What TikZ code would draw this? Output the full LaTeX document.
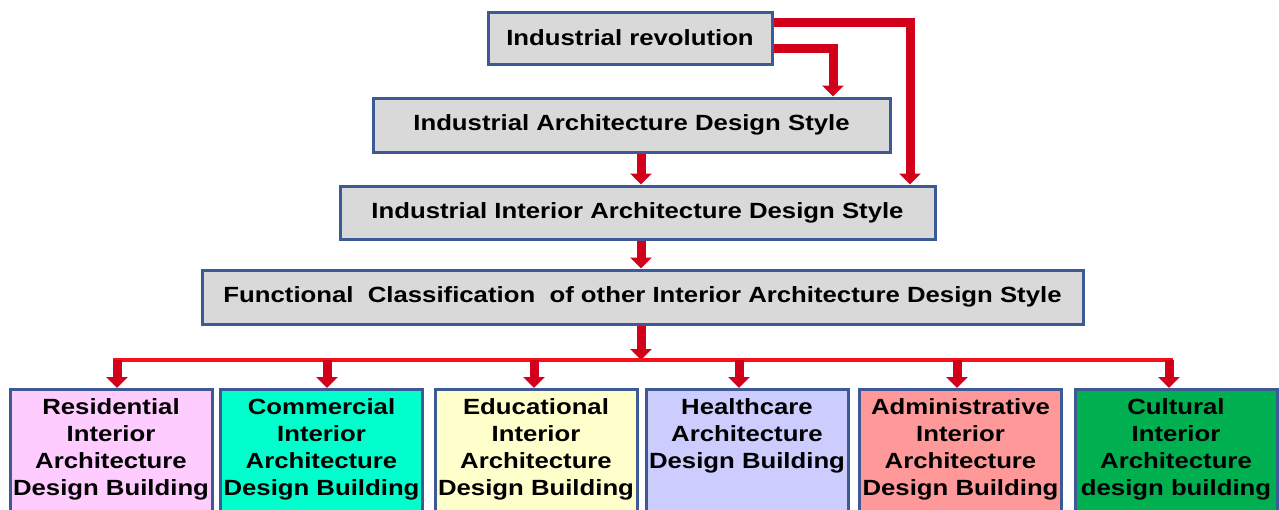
\documentclass[tikz,border=0pt]{standalone}
\usepackage{fontspec}
\newfontfamily\labfont{Liberation Sans}[FakeStretch=1.17]
\usetikzlibrary{arrows.meta,calc}
\definecolor{boxblue}{HTML}{3D5A96}
\definecolor{boxgray}{HTML}{D9D9D9}
\definecolor{arrred}{HTML}{D2001A}
\definecolor{linered}{HTML}{F5101A}
\definecolor{cpink}{HTML}{FFCCFF}
\definecolor{cteal}{HTML}{00FFCC}
\definecolor{cyellow}{HTML}{FFFFCC}
\definecolor{clav}{HTML}{CCCCFF}
\definecolor{csalmon}{HTML}{FF9999}
\definecolor{cgreen}{HTML}{00B050}
\tikzset{
  topbox/.style={draw=boxblue, line width=3pt, fill=boxgray, rectangle, inner sep=0pt,
    font=\labfont\bfseries\fontsize{22}{27}\selectfont},
  botbox/.style={draw=boxblue, line width=3pt, rectangle, inner sep=0pt, anchor=north,
    minimum width=202pt, minimum height=125pt},
  bottext/.style={anchor=north, align=center, inner sep=0pt,
    font=\labfont\bfseries\fontsize{22}{27}\selectfont},
  fat/.style={draw=arrred, line width=9pt, line join=miter, -{Triangle[width=21pt,length=11pt]}},
  hline/.style={draw=linered, line width=4pt}
}
\begin{document}
\begin{tikzpicture}[x=1pt,y=-1pt]
\useasboundingbox (0,0) rectangle (1279,509);
% top boxes
\node[topbox, minimum width=284pt, minimum height=52pt] (IR) at (630,38) {Industrial revolution};
\node[topbox, minimum width=517pt, minimum height=54pt] (IADS) at (631.5,125) {Industrial Architecture Design Style};
\node[topbox, minimum width=595pt, minimum height=53pt] (IIADS) at (637.5,212.5) {Industrial Interior Architecture Design Style};
\node[topbox, minimum width=881pt, minimum height=54pt] (FC) at (642.5,297) {Functional\ \ Classification\ \ of other Interior Architecture Design Style};
% bottom boxes
\node[botbox, fill=cpink] (b1) at (111,388) {};
\node[botbox, fill=cteal] (b2) at (321.5,388) {};
\node[botbox, fill=cyellow] (b3) at (536,388) {};
\node[botbox, fill=clav] (b4) at (747,388) {};
\node[botbox, fill=csalmon] (b5) at (960.5,388) {};
\node[botbox, fill=cgreen] (b6) at (1176,388) {};
\node[bottext] (t1) at (111,398) {Residential\\Interior\\Architecture\\Design Building};
\node[bottext] (t2) at (321.5,398) {Commercial\\Interior\\Architecture\\Design Building};
\node[bottext] (t3) at (536,398) {Educational\\Interior\\Architecture\\Design Building};
\node[bottext] (t4) at (747,398) {Healthcare\\Architecture\\Design Building};
\node[bottext] (t5) at (960.5,398) {Administrative\\Interior\\Architecture\\Design Building};
\node[bottext] (t6) at (1176,398) {Cultural\\Interior\\Architecture\\design building};
% connectors at top
\coordinate (ra) at (910,22);
\coordinate (rb) at (833,48);
\coordinate (hl) at (0,360);
\draw[fat] (IR.east |- ra) -| (IIADS.north -| ra);
\draw[fat] (IR.east |- rb) -| (IADS.north -| rb);
\draw[fat] ([xshift=9.5pt]IADS.south) -- ([xshift=9.5pt]IADS.south |- IIADS.north);
\draw[fat] ([xshift=3.5pt]IIADS.south) -- ([xshift=3.5pt]IIADS.south |- FC.north);
\draw[fat] ([xshift=-1.5pt]FC.south) -- ([xshift=-1.5pt]FC.south |- hl);
% distribution line
\draw[hline] ([xshift=2pt]b1.north |- hl) -- ([xshift=-3pt]b6.north |- hl);
\draw[fat] ([xshift=6pt]b1.north |- hl) -- ([xshift=6pt]b1.north);
\draw[fat] ([xshift=5.5pt]b2.north |- hl) -- ([xshift=5.5pt]b2.north);
\draw[fat] ([xshift=-2pt]b3.north |- hl) -- ([xshift=-2pt]b3.north);
\draw[fat] ([xshift=-8pt]b4.north |- hl) -- ([xshift=-8pt]b4.north);
\draw[fat] ([xshift=-3.5pt]b5.north |- hl) -- ([xshift=-3.5pt]b5.north);
\draw[fat] ([xshift=-7pt]b6.north |- hl) -- ([xshift=-7pt]b6.north);
\end{tikzpicture}
\end{document}
